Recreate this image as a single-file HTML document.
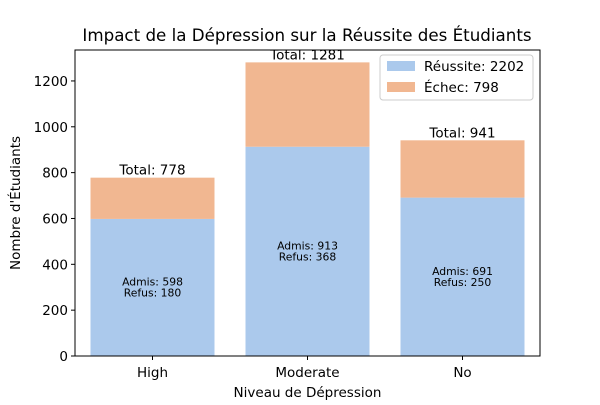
<!DOCTYPE html>
<html><head><meta charset="utf-8"><style>
body{margin:0;background:#fff;}
svg text{font-family:"DejaVu Sans","Liberation Sans",sans-serif;fill:#000;}
</style></head><body>
<svg id="chart" width="600" height="400">
<text x="307" y="41" font-size="16.7" text-anchor="middle">Impact de la Dépression sur la Réussite des Étudiants</text>
<g id="plot"></g>
</svg>
<script>
const categories=["High","Moderate","No"];
const admis=[598,913,691];
const refus=[180,368,250];
const yTicks=[0,200,400,600,800,1000,1200];
const L=75,R=540,T=50,B=356,yMax=1335;
const xs=i=>L+(i+0.5)*(R-L)/3;
const bw=0.8*(R-L)/3;
const ys=v=>B-v*(B-T)/yMax;
const g=document.getElementById('plot');
const NS='http://www.w3.org/2000/svg';
function mk(t,a,txt){const e=document.createElementNS(NS,t);for(const k in a)e.setAttribute(k,a[k]);if(txt!==undefined)e.textContent=txt;g.appendChild(e);return e;}
categories.forEach((c,i)=>{
 const tot=admis[i]+refus[i];
 let e=mk('rect',{x:xs(i)-bw/2,y:ys(admis[i]),width:bw,height:ys(0)-ys(admis[i]),fill:'#abc9ec'});
 
 
 e=mk('rect',{x:xs(i)-bw/2,y:ys(tot),width:bw,height:ys(admis[i])-ys(tot),fill:'#f1b791'});
 
 
 e=mk('text',{x:xs(i),y:ys(tot)-3,'font-size':13.5,'text-anchor':'middle'},'Total: '+tot);
 
 
 const cy=ys(admis[i]/2);
 e=mk('text',{x:xs(i),y:cy-2,'font-size':10.8,'text-anchor':'middle'},'Admis: '+admis[i]);
 
 
 e=mk('text',{x:xs(i),y:cy+9,'font-size':10.8,'text-anchor':'middle'},'Refus: '+refus[i]);
 
 
 mk('line',{x1:xs(i),x2:xs(i),y1:B,y2:B+4,stroke:'#000'});
 e=mk('text',{x:xs(i),y:B+21,'font-size':13.5,'text-anchor':'middle'},c);
 
 
});
yTicks.forEach(v=>{
 mk('line',{x1:L-4,x2:L,y1:ys(v),y2:ys(v),stroke:'#000'});
 const e=mk('text',{x:L-7,y:ys(v)+5,'font-size':13.5,'text-anchor':'end'},v);
 
 
});
let f=mk('rect',{x:L,y:T,width:R-L,height:B-T,fill:'none',stroke:'#000'});


f=mk('text',{x:(L+R)/2,y:397,'font-size':13.5,'text-anchor':'middle'},'Niveau de Dépression');


f=mk('text',{x:20,y:(T+B)/2,'font-size':13.5,'text-anchor':'middle',transform:'rotate(-90 20 '+(T+B)/2+')'},"Nombre d'Étudiants");


const tR=admis.reduce((a,b)=>a+b,0),tE=refus.reduce((a,b)=>a+b,0);
f=mk('rect',{x:380,y:55,width:153,height:45,rx:3,fill:'#fff',stroke:'#ccc'});


mk('rect',{x:387,y:61,width:28,height:10,fill:'#abc9ec'});
f=mk('text',{x:424,y:71,'font-size':13.5},'Réussite: '+tR);


mk('rect',{x:387,y:82,width:28,height:10,fill:'#f1b791'});
f=mk('text',{x:424,y:92,'font-size':13.5},'Échec: '+tE);


</script>
</body></html>
